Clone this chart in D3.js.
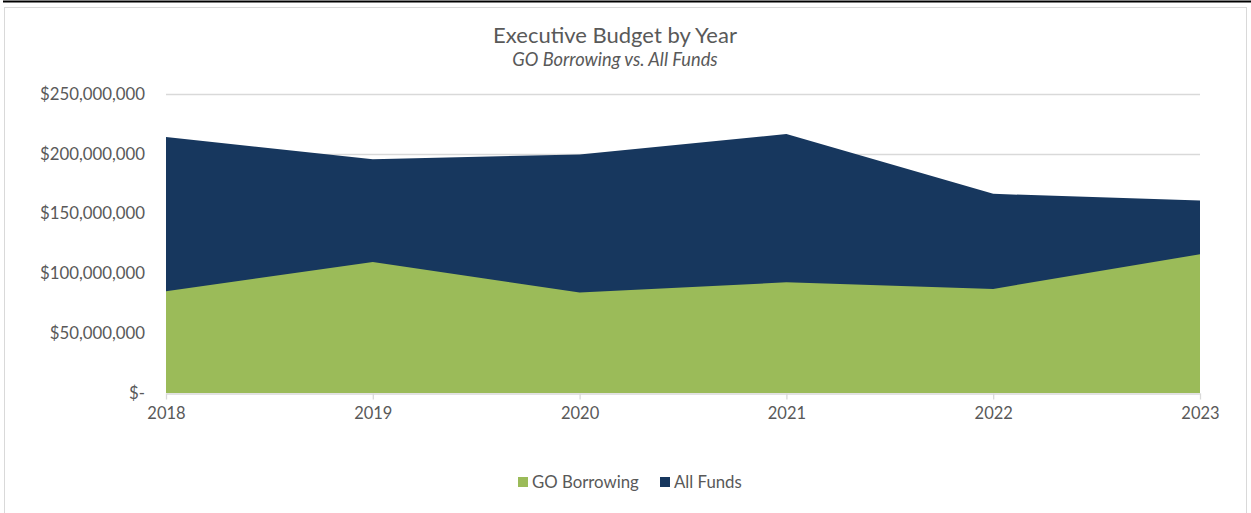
<!DOCTYPE html>
<html>
<head>
<meta charset="utf-8">
<script src="https://cdn.jsdelivr.net/npm/d3@7"></script>
<style>
  html, body { margin: 0; padding: 0; background: #fff; }
  svg { display: block; }
  text { font-family: Lato, "Open Sans", sans-serif; fill: #595959; }
</style>
</head>
<body>
<svg id="chart" width="1251" height="513"></svg>
<script>
// Budget figures by fiscal year (dollars)
const years = [2018, 2019, 2020, 2021, 2022, 2023];
const allFunds = [214000000, 195500000, 199500000, 216500000, 166500000, 161000000];
const goBorrowing = [85000000, 109500000, 84000000, 92500000, 87000000, 116000000];
const yTicks = [0, 50000000, 100000000, 150000000, 200000000, 250000000];
const seriesNames = ["GO Borrowing", "All Funds"];
const seriesColors = ["#9BBB59", "#17375E"];

const svg = d3.select("#chart");
const W = 1251, H = 513;
const m = { left: 166, right: 1200, top: 94, bottom: 393 };

// outer frame
svg.append("line").attr("x1", 3).attr("x2", W).attr("y1", 1.5).attr("y2", 1.5)
  .attr("stroke", "#000").attr("stroke-width", 2);
svg.append("rect").attr("x", 4.5).attr("y", 7.5).attr("width", 1242).attr("height", 520)
  .attr("fill", "none").attr("stroke", "#D9D9D9").attr("stroke-width", 1);

const x = d3.scalePoint().domain(years).range([m.left, m.right]);
const y = d3.scaleLinear().domain([0, 250000000]).range([m.bottom, m.top]);

// horizontal gridlines
svg.append("g").selectAll("line").data(yTicks.filter(d => d > 0)).join("line")
  .attr("x1", m.left).attr("x2", m.right)
  .attr("y1", d => Math.round(y(d)) + 0.5).attr("y2", d => Math.round(y(d)) + 0.5)
  .attr("stroke", "#D9D9D9").attr("stroke-width", 1.3);

// areas: All Funds behind, GO Borrowing in front
const area = vals => d3.area()
  .x((d, i) => x(years[i]))
  .y0(y(0))
  .y1(d => y(d))(vals);

svg.append("path").attr("d", area(allFunds)).attr("fill", seriesColors[1]);
svg.append("path").attr("d", area(goBorrowing)).attr("fill", seriesColors[0]);

// x axis
const xAxis = svg.append("g").attr("transform", `translate(0,${m.bottom + 0.5})`)
  .call(d3.axisBottom(x).tickSize(6).tickSizeOuter(0).tickPadding(8));
xAxis.select(".domain").attr("stroke", "#D9D9D9").attr("stroke-width", 1.3);
xAxis.selectAll(".tick line").attr("stroke", "#D9D9D9").attr("stroke-width", 1.3);
xAxis.selectAll(".tick text").attr("font-size", 16.5).attr("fill", "#595959")
  .style("font-family", "Lato, sans-serif");

// y axis labels (accounting style)
const fmt = d => d === 0 ? "$-" : "$" + d3.format(",")(d);
svg.append("g").selectAll("text").data(yTicks).join("text")
  .attr("x", 145).attr("y", d => y(d)).attr("dy", "0.35em")
  .attr("text-anchor", "end").attr("font-size", 16.8)
  .text(fmt);

// titles
svg.append("text").attr("x", 615).attr("y", 43).attr("text-anchor", "middle")
  .attr("font-size", 22).text("Executive Budget by Year");
svg.append("text").attr("x", 615).attr("y", 66).attr("text-anchor", "middle")
  .attr("font-size", 18.3).attr("font-style", "italic").text("GO Borrowing vs. All Funds");

// legend
const legendItems = [
  { name: seriesNames[0], color: seriesColors[0], x: 518 },
  { name: seriesNames[1], color: seriesColors[1], x: 660 }
];
const lg = svg.append("g").selectAll("g").data(legendItems).join("g")
  .attr("transform", d => `translate(${d.x},477)`);
lg.append("rect").attr("width", 10).attr("height", 10).attr("fill", d => d.color);
lg.append("text").attr("x", 14).attr("y", 5).attr("dy", "0.35em")
  .attr("font-size", 16.8).text(d => d.name);
</script>
</body>
</html>
